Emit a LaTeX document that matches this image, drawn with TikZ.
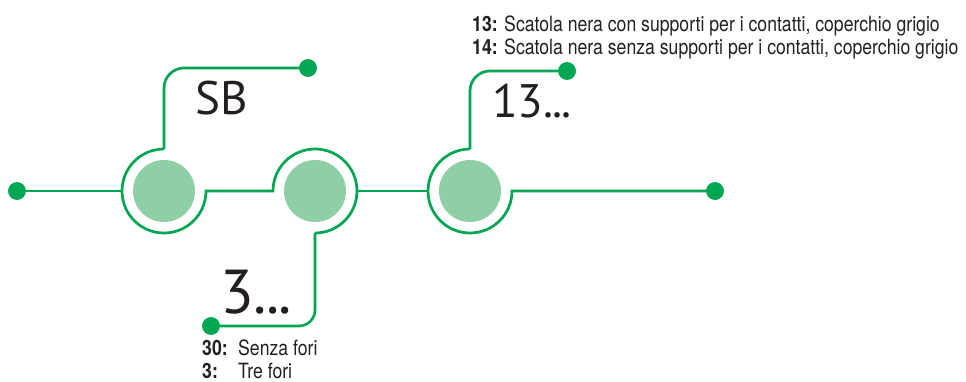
\documentclass[tikz,border=0pt]{standalone}
\usepackage{fontspec}
\setmainfont{PT Sans}
\newfontfamily\condfont[FakeStretch=0.84]{TeX Gyre Heros}
\usetikzlibrary{calc}
\definecolor{gline}{RGB}{0,166,81}
\definecolor{ghub}{RGB}{143,207,165}
\definecolor{txt}{RGB}{35,31,32}
\newcommand{\tightdots}{.\kern-0.02em.\kern-0.02em.}
\begin{document}
\begin{tikzpicture}[x=1pt,y=1pt,
  gl/.style={draw=gline,line width=2.7pt},
  hub/.style={circle,fill=ghub,minimum size=62pt,inner sep=0pt},
  gdot/.style={circle,fill=gline,minimum size=17.6pt,inner sep=0pt},
  biglbl/.style={anchor=base west,inner sep=0pt,text=txt,font=\fontsize{47}{47}\selectfont},
  smalltxt/.style={anchor=base west,inner sep=0pt,text=txt,font=\condfont\fontsize{21}{21}\selectfont}]
\useasboundingbox (0,0) rectangle (966,381);
% hubs
\node[hub] (c1) at (164,190) {};
\node[hub] (c2) at (315,190) {};
\node[hub] (c3) at (470,190) {};
% end dots
\node[gdot] (ldot) at (17,190) {};
\node[gdot] (rdot) at (715,190) {};
\node[gdot] (dsb) at (308,313) {};
\node[gdot] (d13) at (567,310) {};
\node[gdot] (d3) at (211,55) {};
% ring points
\coordinate (c1w) at ($(c1)+(-42,0)$);
\coordinate (c1n) at ($(c1)+(0,42)$);
\coordinate (c2w) at ($(c2)+(-42,0)$);
\coordinate (c2e) at ($(c2)+(42,0)$);
\coordinate (c2s) at ($(c2)+(0,-42)$);
\coordinate (c3w) at ($(c3)+(-42,0)$);
\coordinate (c3n) at ($(c3)+(0,42)$);
% connectors
\draw[gl] (ldot.center) -- (c1w);
\draw[gl] (c1n) arc[start angle=90,end angle=360,radius=42] -- (c2w)
  arc[start angle=180,end angle=-90,radius=42];
\draw[gl] (c2e) -- (c3w);
\draw[gl] (c3n) arc[start angle=90,end angle=360,radius=42] -- (rdot.center);
\draw[gl,rounded corners=20pt] (c1n) |- (dsb.center);
\draw[gl,rounded corners=20pt] (c3n) |- (d13.center);
\draw[gl,rounded corners=16pt] (c2s) |- (d3.center);
% redraw dots on top
\node[gdot] at (ldot) {};
\node[gdot] at (rdot) {};
\node[gdot] at (dsb) {};
\node[gdot] at (d13) {};
\node[gdot] at (d3) {};
% labels
\node[biglbl] (lsb) at (195,266) {SB};
\node[biglbl] (l13) at (492,264) {13\tightdots};
\node[biglbl,font=\fontsize{62}{62}\selectfont] (l3) at (220,68) {3\tightdots};
% descriptions
\node[smalltxt] (t13) at (472,349) {\textbf{13:} Scatola nera con supporti per i contatti, coperchio grigio};
\node[smalltxt] (t14) at (472,326) {\textbf{14:} Scatola nera senza supporti per i contatti, coperchio grigio};
\node[smalltxt] (k30) at (202,26) {\textbf{30:}};
\node[smalltxt] (v30) at (238,26) {Senza fori};
\node[smalltxt] (k3) at (202,3) {\textbf{3:}};
\node[smalltxt] (v3) at (238,3) {Tre fori};
\end{tikzpicture}
\end{document}
